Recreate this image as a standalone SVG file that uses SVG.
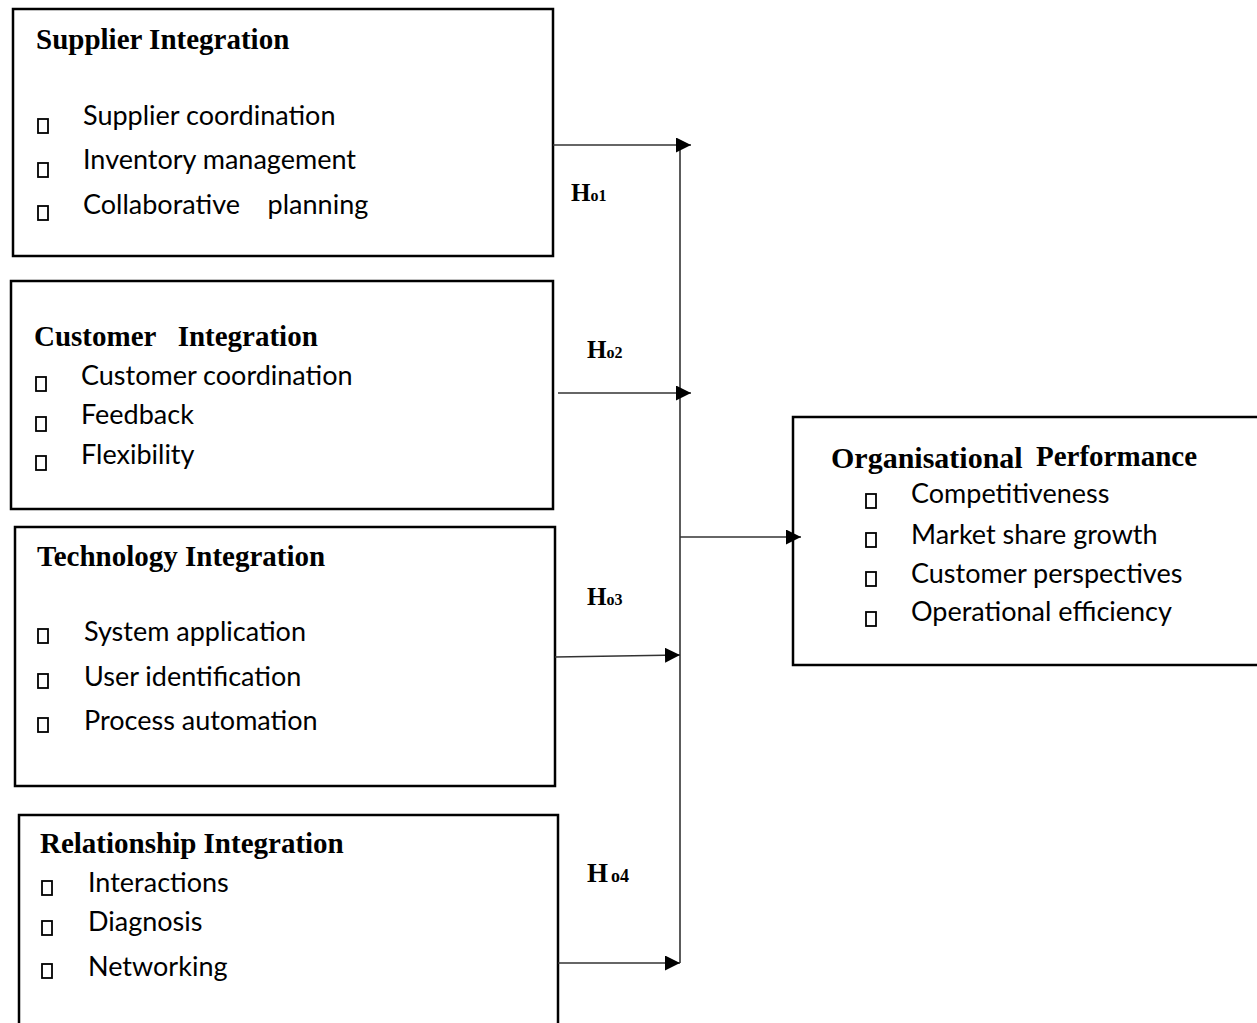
<svg xmlns="http://www.w3.org/2000/svg" width="1257" height="1023" viewBox="0 0 1257 1023">
<defs>
<style>
.box{fill:#fff;stroke:#000;stroke-width:2.5}
.title{font-family:"Liberation Serif",serif;font-weight:bold;font-size:29px;fill:#000}
.item{font-family:Lato,"Liberation Sans",sans-serif;font-size:27px;fill:#000}
.bul{fill:none;stroke:#000;stroke-width:1.8}
.hl{font-family:"Liberation Serif",serif;font-weight:bold;font-size:25px;fill:#000}
.sub{font-size:16px}
.conn{stroke:#333;stroke-width:1.6;fill:none}
</style>
<marker id="arr" viewBox="0 0 10 10" refX="10" refY="5" markerWidth="15" markerHeight="15" markerUnits="userSpaceOnUse" orient="auto">
<path d="M0,0 L10,5 L0,10 z" fill="#000"/>
</marker>
</defs>
<rect width="1257" height="1023" fill="#fff"/>

<g id="supplier">
<rect class="box" x="13" y="9" width="540" height="247"/>
<text class="title" x="36" y="49">Supplier Integration</text>
<rect class="bul" x="38" y="119" width="10" height="14"/>
<rect class="bul" x="38" y="163" width="10" height="14"/>
<rect class="bul" x="38" y="206" width="10" height="14"/>
<text class="item" x="83" y="125">Supplier coordination</text>
<text class="item" x="83" y="169">Inventory management</text>
<text class="item" x="83" y="214" xml:space="preserve">Collaborative    planning</text>
</g>

<g id="customer">
<rect class="box" x="11" y="281" width="542" height="228"/>
<text class="title" x="34" y="346" xml:space="preserve">Customer   Integration</text>
<rect class="bul" x="36" y="377" width="10" height="14"/>
<rect class="bul" x="36" y="417" width="10" height="14"/>
<rect class="bul" x="36" y="456" width="10" height="14"/>
<text class="item" x="81" y="385">Customer coordination</text>
<text class="item" x="81" y="424">Feedback</text>
<text class="item" x="81" y="464">Flexibility</text>
</g>

<g id="technology">
<rect class="box" x="15" y="527" width="540" height="259"/>
<text class="title" x="37" y="566">Technology Integration</text>
<rect class="bul" x="38" y="629" width="10" height="14"/>
<rect class="bul" x="38" y="674" width="10" height="14"/>
<rect class="bul" x="38" y="718" width="10" height="14"/>
<text class="item" x="84" y="641">System application</text>
<text class="item" x="84" y="686">User identification</text>
<text class="item" x="84" y="730">Process automation</text>
</g>

<g id="relationship">
<rect class="box" x="19" y="815" width="539" height="220"/>
<text class="title" x="40" y="853">Relationship Integration</text>
<rect class="bul" x="42" y="881" width="10" height="14"/>
<rect class="bul" x="42" y="921" width="10" height="14"/>
<rect class="bul" x="42" y="964" width="10" height="14"/>
<text class="item" x="88" y="892">Interactions</text>
<text class="item" x="88" y="931">Diagnosis</text>
<text class="item" x="88" y="976">Networking</text>
</g>

<g id="performance">
<rect class="box" x="793" y="417" width="480" height="248"/>
<text class="title" x="831" y="468" style="font-size:30px">Organisational</text>
<text class="title" x="1036" y="466">Performance</text>
<rect class="bul" x="866" y="494" width="10" height="14"/>
<rect class="bul" x="866" y="533" width="10" height="14"/>
<rect class="bul" x="866" y="572" width="10" height="14"/>
<rect class="bul" x="866" y="612" width="10" height="14"/>
<text class="item" x="911" y="503">Competitiveness</text>
<text class="item" x="911" y="544">Market share growth</text>
<text class="item" x="911" y="583">Customer perspectives</text>
<text class="item" x="911" y="621">Operational efficiency</text>
</g>

<g id="connectors">
<line class="conn" x1="680" y1="145" x2="680" y2="963"/>
<line class="conn" x1="553" y1="145" x2="691" y2="145" marker-end="url(#arr)"/>
<line class="conn" x1="558" y1="393" x2="691" y2="393" marker-end="url(#arr)"/>
<line class="conn" x1="680" y1="537" x2="801" y2="537" marker-end="url(#arr)"/>
<line class="conn" x1="555" y1="657" x2="680" y2="655" marker-end="url(#arr)"/>
<line class="conn" x1="558" y1="963" x2="680" y2="963" marker-end="url(#arr)"/>
</g>

<g id="labels">
<text class="hl" x="571" y="201">H<tspan class="sub">o1</tspan></text>
<text class="hl" x="587" y="358">H<tspan class="sub">o2</tspan></text>
<text class="hl" x="587" y="605">H<tspan class="sub">o3</tspan></text>
<text class="hl" x="587" y="882" style="font-size:27px">H<tspan class="sub" dx="3" style="font-size:18px">o4</tspan></text>
</g>
</svg>
